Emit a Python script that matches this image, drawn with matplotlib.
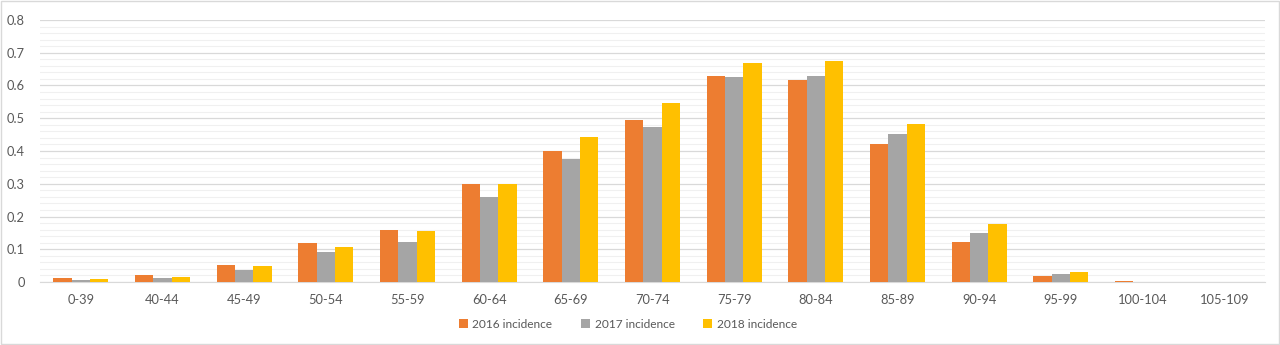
import numpy as np
import matplotlib.pyplot as plt
from matplotlib.patches import Rectangle

plt.rcParams['font.family'] = ['Lato', 'DejaVu Sans']

# data
age_groups = ['0-39', '40-44', '45-49', '50-54', '55-59', '60-64', '65-69', '70-74',
              '75-79', '80-84', '85-89', '90-94', '95-99', '100-104', '105-109']
inc_2016 = [0.012, 0.020, 0.051, 0.120, 0.158, 0.299, 0.400, 0.494,
            0.630, 0.617, 0.421, 0.122, 0.018, 0.002, 0.0]
inc_2017 = [0.007, 0.013, 0.036, 0.092, 0.122, 0.260, 0.376, 0.473,
            0.626, 0.628, 0.451, 0.149, 0.025, 0.001, 0.0]
inc_2018 = [0.009, 0.014, 0.048, 0.106, 0.156, 0.298, 0.443, 0.546,
            0.669, 0.674, 0.483, 0.176, 0.032, 0.001, 0.0]
series_labels = ['2016 incidence', '2017 incidence', '2018 incidence']
colors = ['#ED7D31', '#A5A5A5', '#FFC000']

TEXT = '#595959'

fig = plt.figure(figsize=(12.8, 3.45), dpi=100)
ax = fig.add_axes([40 / 1280, 63 / 345, 1225 / 1280, 262 / 345])

x = np.arange(len(age_groups))
w = 0.225
for i, (vals, lab, c) in enumerate(zip([inc_2016, inc_2017, inc_2018], series_labels, colors)):
    ax.bar(x + (i - 1) * w, vals, width=w, color=c, label=lab, zorder=3)

ax.set_xlim(-0.5, len(age_groups) - 0.5)
ax.set_ylim(0, 0.8)
ax.set_yticks(np.arange(0, 0.81, 0.1))
ax.set_yticklabels(['0'] + [f'{v:.1f}' for v in np.arange(0.1, 0.81, 0.1)])
ax.set_yticks(np.arange(0, 0.81, 0.02), minor=True)
ax.grid(axis='y', which='major', color='#d9d9d9', linewidth=0.9, zorder=0)
ax.grid(axis='y', which='minor', color='#f0f0f0', linewidth=0.8, zorder=0)
ax.set_xticks(x)
ax.set_xticklabels(age_groups)
ax.tick_params(axis='both', which='both', length=0, colors=TEXT, labelsize=9.3)
ax.tick_params(axis='x', pad=9)
ax.tick_params(axis='y', pad=11)

for s in ['top', 'right', 'left']:
    ax.spines[s].set_visible(False)
ax.spines['bottom'].set_color('#d9d9d9')

leg = ax.legend(loc='center', bbox_to_anchor=(628 / 1280, 21 / 345), bbox_transform=fig.transFigure,
                ncol=3, frameon=False, fontsize=8.6, handlelength=0.75, handleheight=0.75,
                handletextpad=0.4, columnspacing=2.4)
for t in leg.get_texts():
    t.set_color(TEXT)

# chart area border
fig.patches.append(Rectangle((0.001, 0.002), 0.998, 0.996, transform=fig.transFigure,
                             fill=False, edgecolor='#d9d9d9', linewidth=1))

fig.savefig('out.png', dpi=100)
